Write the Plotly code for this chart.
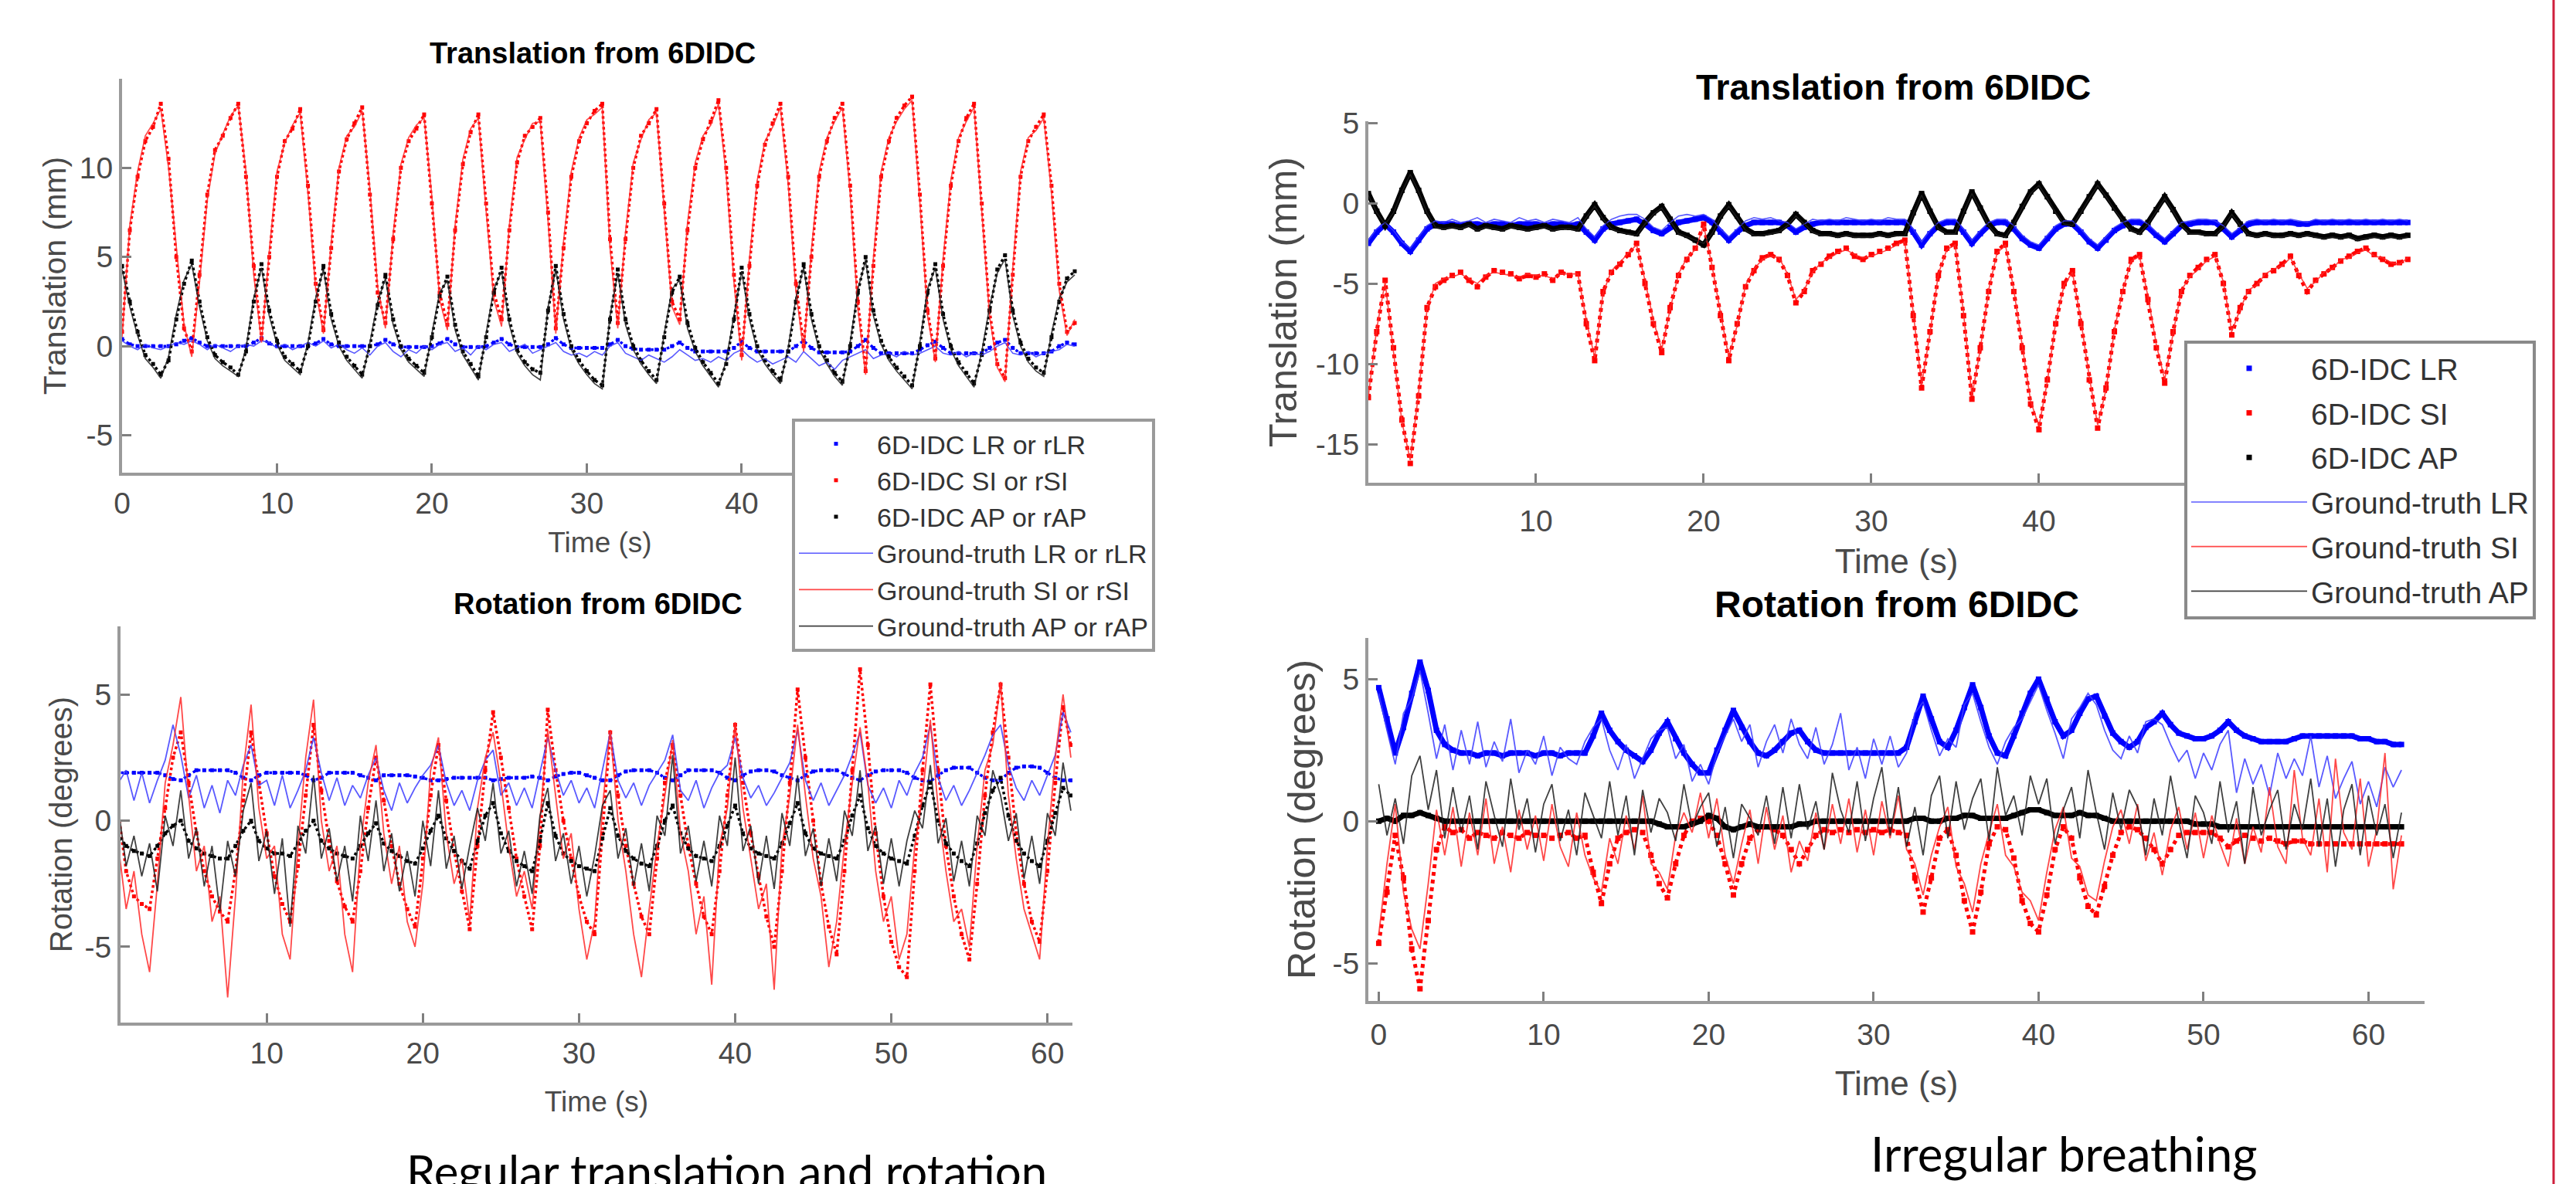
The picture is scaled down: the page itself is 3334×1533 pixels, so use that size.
import plotly.graph_objects as go

W, H = 3334, 1533

# ---------------- time bases (s) ----------------
t_reg = [round(0.5 * i, 1) for i in range(124)]   # regular breathing, 0 .. 61.5 s
t_irr = [round(0.5 * i, 1) for i in range(125)]   # irregular breathing, 0 .. 62 s

# ---------------- Regular: translation (mm) ----------------
reg_tr_lr_est = [0.4, 0.1, 0.0, 0.0, 0.0, 0.0, 0.0, 0.1, 0.3, 0.45,
                 0.2, 0.0, 0.0, 0.0, 0.0, 0.0, 0.0, 0.2, 0.45, 0.15,
                 0.0, 0.0, 0.0, 0.0, 0.0, 0.15, 0.4, 0.1, 0.0, 0.0,
                 0.0, 0.0, 0.0, 0.1, 0.35, 0.1, -0.05, -0.05, -0.05, -0.05,
                 0.0, 0.15, 0.4, 0.1, -0.05, -0.05, -0.05, 0.0, 0.2, 0.4,
                 0.1, -0.05, -0.05, -0.05, -0.05, 0.1, 0.45, 0.1, -0.1, -0.1,
                 -0.1, -0.1, -0.1, 0.1, 0.35, 0.0, -0.15, -0.2, -0.2, -0.2,
                 -0.2, 0.0, 0.2, -0.1, -0.3, -0.3, -0.3, -0.3, -0.3, -0.1,
                 0.25, -0.1, -0.3, -0.3, -0.3, -0.3, -0.3, 0.0, 0.3, -0.1,
                 -0.35, -0.35, -0.35, -0.35, -0.3, 0.0, 0.35, -0.1, -0.4, -0.4,
                 -0.4, -0.4, -0.4, -0.2, 0.05, 0.25, -0.1, -0.4, -0.4, -0.4,
                 -0.4, -0.4, -0.1, 0.2, 0.35, -0.1, -0.4, -0.4, -0.4, -0.4,
                 -0.3, 0.0, 0.2, 0.1]
reg_tr_si_est = [0.8, 6.5, 9.5, 11.5, 12.3, 13.6, 10.5, 5.0, 1.0, -0.3,
                 4.0, 8.5, 11.0, 11.8, 12.8, 13.6, 9.5, 4.5, 0.4, 5.0,
                 9.5, 11.5, 12.2, 13.3, 9.0, 3.5, 0.9, 5.5, 9.8, 11.6,
                 12.5, 13.4, 8.5, 3.0, 1.3, 6.0, 10.0, 11.5, 12.2, 13.0,
                 8.0, 3.0, 1.2, 6.5, 10.2, 12.0, 13.0, 8.0, 3.0, 1.5,
                 6.5, 10.3, 11.8, 12.3, 12.8, 7.5, 1.0, 5.5, 9.5, 11.5,
                 12.5, 13.2, 13.6, 6.0, 1.3, 6.0, 10.0, 11.8, 12.5, 13.3,
                 8.0, 2.5, 1.5, 6.5, 10.0, 11.6, 12.6, 13.8, 10.0, 4.0,
                 -0.5, 4.5, 9.0, 11.3, 12.5, 13.6, 9.5, 3.5, 0.0, 5.0,
                 9.5, 11.5, 12.8, 13.6, 9.0, 2.5, -1.4, 4.5, 9.5, 11.5,
                 12.8, 13.5, 14.0, 8.5, 2.0, -0.7, 4.5, 9.0, 11.5, 12.8,
                 13.6, 8.0, 2.0, -1.0, -1.8, 4.0, 9.5, 11.5, 12.3, 13.0,
                 9.0, 3.5, 0.8, 1.3]
reg_tr_ap_est = [4.5, 2.5, 0.8, -0.5, -1.0, -1.6, -0.8, 1.5, 3.5, 4.8,
                 2.5, 0.5, -0.5, -0.9, -1.2, -1.6, -0.3, 2.5, 4.6, 2.0,
                 0.3, -0.6, -1.0, -1.4, 0.0, 2.5, 4.5, 1.8, 0.2, -0.6,
                 -1.1, -1.6, 0.0, 2.3, 4.0, 1.5, 0.0, -0.7, -1.1, -1.5,
                 0.5, 2.8, 3.9, 1.2, -0.3, -1.0, -1.7, 0.5, 3.0, 4.4,
                 1.5, -0.2, -0.9, -1.3, -1.5, 2.0, 4.5, 1.8, 0.0, -0.8,
                 -1.4, -1.9, -2.2, 1.5, 4.3, 1.5, 0.0, -0.8, -1.4, -1.9,
                 0.5, 3.0, 3.9, 1.3, -0.1, -0.9, -1.5, -2.1, -1.0, 1.5,
                 4.4, 1.8, 0.0, -0.8, -1.4, -1.9, -0.3, 2.5, 4.6, 1.8,
                 0.0, -0.8, -1.5, -2.0, 0.0, 3.0, 5.0, 2.0, 0.3, -0.6,
                 -1.2, -1.7, -2.2, 0.0, 3.0, 4.6, 1.8, 0.0, -0.9, -1.5,
                 -2.1, -0.5, 2.0, 4.3, 5.1, 2.0, 0.2, -0.7, -1.2, -1.5,
                 0.5, 2.5, 3.8, 4.2]
reg_tr_lr_gt = [0.3, 0.0, -0.2, 0.1, -0.1, -0.2, 0.0, 0.2, 0.1, 0.3,
                0.1, -0.2, 0.1, -0.1, -0.3, 0.0, 0.1, 0.0, 0.3, 0.2,
                -0.1, 0.1, -0.2, 0.0, 0.2, 0.0, 0.3, -0.1, 0.1, -0.2,
                -0.4, -0.1, -0.5, 0.0, 0.2, -0.3, -0.6, -0.2, -0.4, 0.0,
                -0.2, 0.1, 0.2, -0.3, -0.1, -0.5, 0.0, -0.2, 0.1, 0.2,
                -0.3, -0.1, 0.1, -0.4, -0.2, 0.0, 0.2, -0.3, -0.5, -0.4,
                -0.6, -0.3, -0.5, 0.0, 0.2, -0.4, -0.6, -0.8, -0.5, -0.7,
                -0.9, -0.6, -0.2, -0.5, -0.8, -0.7, -0.9, -0.6, -0.8, -0.4,
                -0.2, -0.6, -0.9, -0.7, -1.0, -0.8, -0.6, -0.9, -0.3, -0.7,
                -1.1, -0.9, -1.3, -0.8, -0.6, -0.4, -0.2, -0.7, -0.5, -0.4,
                -0.6, -0.3, -0.5, -0.4, -0.2, 0.0, -0.4, -0.5, -0.3, -0.6,
                -0.4, -0.5, -0.3, 0.0, 0.2, -0.4, -0.5, -0.3, -0.6, -0.4,
                -0.3, -0.2, 0.1, 0.0]
reg_tr_si_gt = [0.5, 6.8, 9.8, 11.8, 12.5, 13.3, 10.0, 5.5, 1.2, -0.6,
                3.6, 8.2, 10.8, 11.9, 12.9, 13.5, 9.8, 4.0, 0.2, 5.3,
                9.8, 11.4, 12.4, 13.1, 8.6, 3.2, 0.7, 5.8, 10.0, 11.8,
                12.3, 13.2, 8.8, 3.3, 1.0, 6.3, 10.2, 11.7, 12.4, 12.8,
                8.4, 2.6, 0.9, 6.8, 10.5, 12.2, 12.8, 7.6, 2.6, 1.1,
                6.8, 10.6, 11.6, 12.5, 12.6, 7.0, 0.7, 5.9, 9.8, 11.7,
                12.7, 13.0, 13.4, 5.5, 1.0, 6.4, 10.3, 11.6, 12.7, 13.1,
                7.6, 2.2, 1.2, 6.9, 10.3, 11.8, 12.4, 13.6, 9.6, 3.6,
                -0.8, 4.9, 9.3, 11.5, 12.3, 13.4, 9.1, 3.1, -0.3, 5.4,
                9.8, 11.7, 12.6, 13.4, 8.6, 2.1, -1.6, 4.9, 9.8, 11.7,
                12.6, 13.3, 13.8, 8.1, 1.7, -0.9, 4.9, 9.3, 11.7, 12.6,
                13.4, 7.6, 1.7, -1.2, -2.0, 4.4, 9.8, 11.7, 12.1, 12.8,
                8.6, 3.1, 0.6, 1.5]
reg_tr_ap_gt = [4.3, 2.2, 0.6, -0.7, -1.2, -1.8, -0.6, 1.8, 3.7, 4.6,
                2.2, 0.3, -0.7, -1.1, -1.4, -1.7, -0.1, 2.7, 4.4, 1.7,
                0.1, -0.8, -1.2, -1.6, 0.2, 2.7, 4.3, 1.5, 0.0, -0.8,
                -1.3, -1.8, 0.2, 2.5, 3.8, 1.2, -0.2, -0.9, -1.3, -1.7,
                0.7, 3.0, 3.7, 0.9, -0.5, -1.2, -1.9, 0.7, 3.2, 4.2,
                1.2, -0.4, -1.1, -1.6, -1.9, 2.2, 4.3, 1.5, -0.2, -1.0,
                -1.6, -2.1, -2.4, 1.7, 4.1, 1.2, -0.2, -1.0, -1.6, -2.1,
                0.7, 3.2, 3.7, 1.0, -0.3, -1.1, -1.7, -2.3, -0.8, 1.7,
                4.2, 1.5, -0.2, -1.0, -1.6, -2.1, -0.1, 2.7, 4.4, 1.5,
                -0.2, -1.0, -1.7, -2.2, 0.2, 3.2, 4.8, 1.7, 0.1, -0.8,
                -1.4, -1.9, -2.4, 0.2, 3.2, 4.4, 1.5, -0.2, -1.1, -1.7,
                -2.3, -0.3, 2.2, 4.1, 4.9, 1.7, 0.0, -0.9, -1.4, -1.7,
                0.7, 2.7, 3.6, 4.0]

# ---------------- Regular: rotation (degrees) ----------------
reg_rot_lr_est = [2.0, 1.9, 1.9, 1.9, 1.9, 1.9, 1.9, 1.8, 1.65, 1.6,
                  1.8, 2.0, 2.0, 2.0, 2.0, 2.0, 1.9, 1.7, 1.6, 1.8,
                  1.9, 1.9, 1.9, 1.9, 1.9, 1.8, 1.6, 1.7, 1.9, 1.9,
                  1.9, 1.9, 1.8, 1.7, 1.6, 1.8, 1.8, 1.8, 1.8, 1.75,
                  1.7, 1.6, 1.6, 1.65, 1.7, 1.7, 1.7, 1.7, 1.7, 1.6,
                  1.65, 1.7, 1.7, 1.7, 1.75, 1.7, 1.6, 1.75, 1.85, 1.9,
                  1.9, 1.8, 1.7, 1.6, 1.6, 1.8, 1.95, 2.0, 2.0, 2.0,
                  1.9, 1.7, 1.6, 1.8, 2.0, 2.0, 2.0, 2.0, 1.9, 1.7,
                  1.6, 1.8, 1.95, 2.0, 2.0, 1.95, 1.8, 1.7, 1.6, 1.8,
                  1.95, 2.0, 2.0, 2.0, 1.85, 1.7, 1.6, 1.8, 1.95, 2.0,
                  2.0, 2.0, 1.9, 1.7, 1.6, 1.55, 1.8, 2.0, 2.1, 2.1,
                  2.1, 1.9, 1.7, 1.6, 1.6, 1.9, 2.1, 2.15, 2.15, 2.1,
                  1.9, 1.7, 1.6, 1.6]
reg_rot_si_est = [1.0, 0.3, -2.0, -3.0, -3.3, -3.5, -1.5, 0.5, 2.5, 3.5,
                  1.5, -0.5, -2.0, -3.0, -3.6, -4.0, -2.0, 0.8, 3.5, 1.5,
                  -0.5, -2.2, -3.3, -4.0, -1.8, 1.0, 3.8, 1.2, -0.8, -2.4,
                  -3.4, -4.0, -2.0, 0.5, 2.5, 0.8, -1.0, -2.5, -3.5, -4.2,
                  -1.5, 1.0, 3.0, 0.8, -1.2, -2.8, -4.3, -1.0, 2.0, 4.3,
                  2.5, 0.5, -1.5, -3.0, -4.3, -1.0, 4.4, 2.0, 0.0, -1.5,
                  -3.0, -4.0, -4.5, -0.5, 3.5, 1.0, -1.0, -2.5, -3.8, -4.5,
                  -1.5, 1.5, 3.0, 1.0, -1.0, -2.5, -3.8, -4.5, -2.0, 1.0,
                  3.8, 1.5, -0.5, -2.2, -3.8, -5.0, -2.0, 1.5, 5.2, 2.5,
                  0.0, -2.5, -4.2, -5.3, -2.0, 2.0, 6.0, 3.0, -0.5, -3.0,
                  -4.8, -5.8, -6.2, -2.0, 2.0, 5.4, 2.0, -1.0, -3.0, -4.5,
                  -5.5, -2.5, 1.0, 3.5, 5.4, 2.5, -0.5, -2.5, -4.0, -4.8,
                  -2.0, 1.5, 4.5, 3.0]
reg_rot_ap_est = [-0.5, -0.6, -1.0, -1.2, -1.3, -1.4, -1.0, -0.5, -0.2, 0.0,
                  -0.8, -1.1, -1.3, -1.4, -1.5, -1.5, -1.0, -0.4, 0.0, -0.8,
                  -1.1, -1.3, -1.3, -1.4, -0.9, -0.4, 0.0, -0.8, -1.1, -1.3,
                  -1.4, -1.5, -1.0, -0.5, -0.1, -0.9, -1.2, -1.4, -1.6, -1.7,
                  -1.1, -0.4, 0.2, -0.7, -1.2, -1.6, -1.9, -0.8, 0.2, 0.7,
                  -0.5, -1.2, -1.6, -1.8, -2.0, -0.8, 0.7, -0.6, -1.3, -1.6,
                  -1.8, -1.9, -2.0, -0.7, 0.5, -0.6, -1.2, -1.5, -1.7, -1.8,
                  -1.0, 0.0, 0.6, -0.5, -1.1, -1.4, -1.5, -1.6, -1.0, -0.2,
                  0.6, -0.5, -1.1, -1.3, -1.4, -1.5, -0.9, -0.1, 0.7, -0.5,
                  -1.1, -1.3, -1.4, -1.5, -0.8, 0.2, 1.0, -0.3, -1.0, -1.3,
                  -1.5, -1.6, -1.7, -0.6, 0.6, 1.5, 0.0, -0.9, -1.3, -1.6,
                  -1.8, -0.9, 0.3, 1.2, 1.7, 0.2, -0.8, -1.3, -1.6, -1.8,
                  -0.8, 0.3, 1.3, 1.0]
reg_rot_lr_gt = [2.8, 1.5, 2.0, 0.8, 1.9, 0.7, 1.6, 2.4, 3.8, 2.6,
                 0.9, 1.8, 0.5, 1.4, 0.3, 1.6, 1.0, 2.2, 3.0, 1.4,
                 1.6, 0.6, 1.8, 0.5, 1.2, 2.0, 3.3, 1.9, 0.8, 1.7,
                 0.6, 1.4, 0.9, 1.8, 2.5, 1.2, 0.4, 1.5, 0.7, 1.3,
                 1.8, 2.2, 3.0, 1.5, 0.6, 1.2, 0.4, 1.6, 2.4, 2.8,
                 1.0, 1.5, 0.6, 1.3, 0.5, 1.9, 3.3, 2.0, 1.0, 1.6,
                 0.7, 1.3, 0.5, 2.0, 3.5, 1.6, 0.9, 1.5, 0.6, 1.4,
                 1.9, 2.4, 3.4, 1.2, 0.8, 1.6, 0.5, 1.3, 1.9, 2.2,
                 3.3, 1.7, 0.9, 1.4, 0.6, 1.1, 1.7, 2.3, 3.6, 1.6,
                 0.8, 1.5, 0.6, 1.2, 1.8, 2.6, 3.5, 1.4, 0.7, 1.3,
                 0.5, 1.6, 1.0, 1.9, 2.5, 3.8, 1.7, 0.8, 1.4, 0.6,
                 1.2, 1.9, 2.6, 3.4, 3.8, 2.2, 1.3, 0.8, 1.6, 1.0,
                 1.8, 2.6, 4.3, 3.5]
reg_rot_si_gt = [0.5, -1.0, -3.5, -2.0, -4.5, -6.0, -2.5, 1.5, 3.0, 4.9,
                 1.0, -2.0, -1.0, -4.0, -3.0, -7.0, -3.0, 2.0, 4.6, 0.5,
                 -1.5, -1.0, -4.5, -5.5, -1.0, 2.5, 4.8, 0.0, -2.0, -1.0,
                 -4.5, -6.0, -1.0, 1.5, 3.0, -0.5, -2.5, -1.0, -4.0, -5.0,
                 -2.5, 2.0, 3.3, -0.5, -2.5, -1.5, -4.0, 0.5, 2.5, 3.5,
                 1.5, -1.0, -3.0, -2.0, -3.5, 0.0, 3.6, 1.0, -1.5, -0.5,
                 -3.5, -5.5, -4.0, 0.5, 3.6, 0.0, -2.0, -4.5, -6.2, -3.5,
                 -1.0, 1.0, 3.2, -0.5, -2.0, -4.5, -3.0, -6.5, -1.0, 0.5,
                 3.9, 0.5, -1.5, -3.5, -2.5, -6.7, -1.0, 1.0, 3.8, 1.0,
                 -1.5, -3.0, -5.8, -4.0, -1.0, 1.5, 3.7, 1.5, -2.0, -4.0,
                 -3.0, -5.5, -4.5, -1.0, 1.0, 4.0, 0.5, -2.0, -4.0, -3.5,
                 -5.0, -1.0, 2.0, 3.0, 5.5, 1.0, -1.5, -3.5, -4.5, -5.5,
                 -1.0, 2.5, 5.0, 2.5]
reg_rot_ap_gt = [-0.3, 0.5, -1.8, -0.6, -2.2, -0.9, -2.8, 0.2, -1.0, 1.2,
                 -1.5, -0.3, -2.6, -1.0, -3.6, -0.8, -2.2, 0.4, 1.5, -1.6,
                 -0.4, -2.9, -0.7, -4.2, -0.2, -1.3, 1.8, -1.5, -0.3, -2.4,
                 -1.0, -3.2, 0.2, -1.6, 0.8, -2.0, -0.5, -2.8, -1.2, -3.0,
                 0.0, -1.8, 1.2, -1.9, -0.6, -2.7, -1.0, 0.5, -0.8, 1.5,
                 -1.3, -0.4, -2.6, -1.2, -2.9, 0.2, 1.3, -1.6, -0.5, -2.5,
                 -1.0, -3.0, -1.4, 0.6, 1.2, -1.5, -0.3, -2.6, -0.9, -2.8,
                 0.2, -0.6, 2.6, -1.3, -0.2, -2.4, -0.8, -2.6, 0.2, -1.0,
                 2.5, -1.2, -0.2, -2.5, -0.6, -2.7, 0.3, -1.0, 1.8, -1.4,
                 -0.3, -2.6, -0.7, -2.4, 0.4, -0.6, 2.0, -1.2, -0.2, -2.5,
                 -0.7, -2.6, -0.8, 0.4, -0.3, 2.2, -0.9, 0.1, -2.4, -0.8,
                 -2.6, 0.2, -0.6, 2.0, 1.0, -0.8, 0.3, -2.3, -0.6, -2.5,
                 0.3, -0.6, 2.3, 0.4]

# ---------------- Irregular: translation (mm) ----------------
irr_tr_lr_est = [-2.5, -1.8, -1.3, -1.8, -2.5, -3.0, -2.3, -1.6, -1.3, -1.3,
                 -1.3, -1.4, -1.3, -1.3, -1.4, -1.3, -1.3, -1.4, -1.3, -1.3,
                 -1.3, -1.4, -1.3, -1.3, -1.4, -1.3, -1.8, -2.3, -1.6, -1.3,
                 -1.2, -1.1, -1.0, -1.3, -1.7, -1.9, -1.5, -1.2, -1.1, -1.0,
                 -0.9, -1.2, -1.8, -2.3, -1.8, -1.4, -1.2, -1.2, -1.2, -1.2,
                 -1.4, -1.8, -1.5, -1.3, -1.2, -1.2, -1.2, -1.2, -1.2, -1.2,
                 -1.2, -1.2, -1.2, -1.2, -1.2, -1.8, -2.6, -1.9, -1.4, -1.2,
                 -1.2, -1.8, -2.5, -1.9, -1.4, -1.2, -1.2, -1.6, -2.2, -2.6,
                 -2.8, -2.2, -1.6, -1.3, -1.3, -1.8, -2.4, -2.8, -2.3, -1.7,
                 -1.4, -1.2, -1.2, -1.5, -2.0, -2.4, -1.9, -1.4, -1.3, -1.2,
                 -1.2, -1.2, -1.6, -2.1, -1.7, -1.3, -1.2, -1.2, -1.2, -1.2,
                 -1.2, -1.3, -1.3, -1.2, -1.2, -1.2, -1.2, -1.2, -1.2, -1.2,
                 -1.2, -1.2, -1.2, -1.2, -1.2]
irr_tr_si_est = [-12.1, -8.0, -4.8, -9.0, -13.5, -16.2, -12.0, -6.5, -5.2, -4.8,
                 -4.5, -4.3, -4.8, -5.2, -4.6, -4.2, -4.3, -4.4, -4.7, -4.5,
                 -4.6, -4.4, -4.8, -4.3, -4.5, -4.4, -7.5, -9.8, -5.5, -4.3,
                 -3.8, -3.2, -2.5, -5.0, -7.5, -9.3, -6.5, -4.5, -3.5, -2.8,
                 -1.3, -4.0, -7.0, -9.8, -7.5, -5.2, -4.2, -3.4, -3.2, -3.5,
                 -4.5, -6.2, -5.5, -4.2, -3.8, -3.3, -3.0, -2.8, -3.3, -3.5,
                 -3.2, -3.0, -2.8, -2.5, -2.3, -7.0, -11.5, -8.0, -4.5, -2.8,
                 -2.5, -7.0, -12.2, -9.0, -5.5, -3.0, -2.5, -5.5, -9.0, -12.5,
                 -14.1, -11.0, -7.5, -5.0, -4.2, -7.5, -11.0, -14.0, -11.5, -8.0,
                 -5.5, -3.5, -3.2, -6.0, -9.0, -11.2, -8.0, -5.5, -4.5, -4.0,
                 -3.5, -3.2, -5.0, -8.2, -6.5, -5.5, -5.0, -4.5, -4.2, -3.8,
                 -3.3, -4.5, -5.5, -4.8, -4.4, -4.0, -3.6, -3.3, -3.0, -2.8,
                 -3.2, -3.5, -3.8, -3.7, -3.5]
irr_tr_ap_est = [0.6, -0.5, -1.4, -0.5, 0.8, 1.9, 0.8, -0.5, -1.4, -1.5,
                 -1.4, -1.5, -1.3, -1.6, -1.4, -1.5, -1.6, -1.4, -1.5, -1.6,
                 -1.5, -1.4, -1.6, -1.5, -1.5, -1.6, -0.8, -0.1, -0.9, -1.5,
                 -1.7, -1.8, -1.9, -1.2, -0.6, -0.2, -1.0, -1.8, -2.0, -2.3,
                 -2.6, -1.8, -0.8, -0.1, -0.8, -1.6, -1.9, -1.9, -1.8, -1.7,
                 -1.3, -0.7, -1.2, -1.7, -1.9, -1.9, -2.0, -1.9, -2.0, -2.0,
                 -2.0, -1.9, -2.0, -1.9, -1.9, -0.6, 0.6, -0.5, -1.5, -1.8,
                 -1.8, -0.5, 0.7, -0.3, -1.3, -1.9, -2.0, -1.2, -0.2, 0.7,
                 1.2, 0.4, -0.5, -1.2, -1.3, -0.5, 0.4, 1.2, 0.5, -0.3,
                 -1.0, -1.6, -1.8, -1.2, -0.4, 0.4, -0.4, -1.3, -1.8, -1.8,
                 -1.9, -1.9, -1.4, -0.6, -1.3, -1.9, -2.0, -1.9, -2.0, -2.0,
                 -1.9, -2.0, -1.9, -2.0, -2.1, -2.0, -2.1, -2.0, -2.2, -2.1,
                 -2.0, -2.1, -2.0, -2.1, -2.0]
irr_tr_lr_gt = [-2.3, -1.6, -1.2, -1.7, -2.4, -2.8, -2.1, -1.4, -1.1, -1.2,
                -1.0, -1.2, -1.1, -0.9, -1.2, -1.0, -1.1, -1.2, -0.9, -1.1,
                -1.0, -1.2, -1.0, -1.1, -1.2, -0.9, -1.6, -2.1, -1.4, -1.0,
                -0.8, -0.7, -0.7, -1.0, -1.5, -1.7, -1.2, -0.8, -0.7, -0.8,
                -0.7, -1.0, -1.6, -2.1, -1.6, -1.1, -0.9, -1.0, -0.9, -1.1,
                -1.2, -1.6, -1.3, -1.0, -1.1, -1.0, -1.1, -0.9, -1.0, -1.1,
                -1.0, -1.1, -0.9, -1.0, -1.0, -1.6, -2.4, -1.7, -1.2, -1.0,
                -1.0, -1.6, -2.3, -1.7, -1.2, -1.0, -1.0, -1.4, -2.0, -2.4,
                -2.6, -2.0, -1.4, -1.1, -1.1, -1.6, -2.2, -2.6, -2.1, -1.5,
                -1.2, -1.0, -1.0, -1.3, -1.8, -2.2, -1.7, -1.2, -1.1, -1.0,
                -1.0, -1.1, -1.4, -1.9, -1.5, -1.1, -1.0, -1.1, -1.0, -1.1,
                -1.0, -1.1, -1.2, -1.0, -1.1, -1.0, -1.1, -1.0, -1.1, -1.0,
                -1.1, -1.0, -1.1, -1.0, -1.1]
irr_tr_si_gt = [-12.0, -7.8, -4.9, -9.2, -13.6, -16.0, -11.8, -6.6, -5.0, -4.7,
                -4.6, -4.4, -4.7, -5.0, -4.5, -4.3, -4.4, -4.5, -4.6, -4.4,
                -4.5, -4.5, -4.7, -4.4, -4.4, -4.4, -7.3, -9.6, -5.6, -4.2,
                -3.7, -3.1, -2.6, -4.8, -7.3, -9.1, -6.6, -4.4, -3.4, -2.9,
                -1.4, -3.9, -6.8, -9.6, -7.6, -5.1, -4.1, -3.5, -3.3, -3.4,
                -4.4, -6.0, -5.4, -4.3, -3.7, -3.4, -3.1, -2.9, -3.2, -3.4,
                -3.3, -3.1, -2.9, -2.6, -2.4, -6.8, -11.3, -8.1, -4.4, -2.9,
                -2.6, -6.8, -12.0, -9.1, -5.4, -3.1, -2.6, -5.4, -8.8, -12.3,
                -13.9, -11.1, -7.4, -5.1, -4.3, -7.3, -10.8, -13.8, -11.6, -7.9,
                -5.4, -3.6, -3.3, -5.8, -8.8, -11.0, -8.1, -5.4, -4.6, -4.1,
                -3.6, -3.3, -4.9, -8.0, -6.6, -5.4, -5.1, -4.4, -4.1, -3.9,
                -3.4, -4.4, -5.3, -4.9, -4.3, -4.1, -3.5, -3.4, -3.1, -2.9,
                -3.3, -3.4, -3.7, -3.8, -3.4]
irr_tr_ap_gt = [0.5, -0.6, -1.3, -0.6, 0.7, 1.8, 0.7, -0.6, -1.5, -1.6,
                -1.5, -1.6, -1.4, -1.7, -1.5, -1.6, -1.7, -1.5, -1.6, -1.7,
                -1.6, -1.5, -1.7, -1.6, -1.6, -1.7, -0.9, -0.2, -1.0, -1.6,
                -1.8, -1.9, -2.0, -1.3, -0.7, -0.3, -1.1, -1.9, -2.1, -2.3,
                -2.5, -1.9, -0.9, -0.2, -0.9, -1.7, -2.0, -2.0, -1.9, -1.8,
                -1.4, -0.8, -1.3, -1.8, -2.0, -2.0, -2.1, -2.0, -2.1, -2.1,
                -2.1, -2.0, -2.1, -2.0, -2.0, -0.7, 0.5, -0.6, -1.6, -1.9,
                -1.9, -0.6, 0.6, -0.4, -1.4, -2.0, -2.1, -1.3, -0.3, 0.6,
                1.1, 0.3, -0.6, -1.3, -1.4, -0.6, 0.3, 1.1, 0.4, -0.4,
                -1.1, -1.7, -1.9, -1.3, -0.5, 0.3, -0.5, -1.4, -1.9, -1.9,
                -2.0, -2.0, -1.5, -0.7, -1.4, -2.0, -2.1, -2.0, -2.1, -2.1,
                -2.0, -2.1, -2.0, -2.1, -2.2, -2.1, -2.2, -2.1, -2.3, -2.2,
                -2.1, -2.2, -2.1, -2.2, -2.1]

# ---------------- Irregular: rotation (degrees) ----------------
irr_rot_lr_est = [4.7, 3.6, 2.4, 3.3, 4.5, 5.6, 4.6, 3.2, 2.7, 2.5,
                  2.4, 2.4, 2.3, 2.4, 2.4, 2.3, 2.4, 2.4, 2.4, 2.3,
                  2.4, 2.4, 2.3, 2.4, 2.4, 2.4, 3.0, 3.8, 3.2, 2.8,
                  2.5, 2.3, 2.1, 2.5, 3.1, 3.5, 2.9, 2.4, 2.0, 1.7,
                  1.7, 2.5, 3.2, 3.9, 3.3, 2.8, 2.4, 2.3, 2.5, 2.8,
                  3.1, 3.2, 2.8, 2.5, 2.4, 2.4, 2.4, 2.4, 2.4, 2.4,
                  2.4, 2.4, 2.4, 2.4, 2.6, 3.5, 4.4, 3.6, 2.8, 2.6,
                  3.2, 4.0, 4.8, 4.0, 3.0, 2.4, 2.3, 3.0, 3.8, 4.5,
                  5.0, 4.3, 3.5, 3.0, 3.2, 3.8, 4.3, 4.4, 3.7, 3.1,
                  2.8, 2.6, 2.8, 3.3, 3.5, 3.8, 3.4, 3.1, 3.0, 2.9,
                  2.9, 3.0, 3.2, 3.5, 3.2, 3.0, 2.9, 2.8, 2.8, 2.8,
                  2.8, 2.9, 3.0, 3.0, 3.0, 3.0, 3.0, 3.0, 3.0, 2.9,
                  2.9, 2.8, 2.8, 2.7, 2.7]
irr_rot_si_est = [-4.3, -2.5, -0.5, -2.0, -4.5, -5.9, -3.5, -1.0, -0.2, -0.4,
                  -0.3, -0.6, -0.4, -0.5, -0.6, -0.4, -0.5, -0.6, -0.4, -0.5,
                  -0.5, -0.6, -0.5, -0.4, -0.6, -0.5, -1.8, -2.9, -1.5, -0.6,
                  -0.4, -0.3, -0.4, -1.2, -2.2, -2.7, -1.5, -0.5, 0.0, 0.1,
                  0.0, -0.5, -1.5, -2.6, -1.5, -0.6, -0.3, -0.2, -0.3, -0.5,
                  -1.0, -1.5, -1.0, -0.5, -0.3, -0.4, -0.3, -0.4, -0.3, -0.4,
                  -0.3, -0.4, -0.3, -0.4, -0.5, -2.0, -3.2, -2.0, -0.6, -0.3,
                  -1.2, -2.8, -3.9, -2.5, -0.8, -0.2, -0.3, -1.3, -2.8, -3.6,
                  -3.9, -2.6, -1.0, -0.2, -0.6, -2.0, -3.0, -3.3, -2.3, -1.2,
                  -0.4, -0.2, -0.3, -0.6, -1.0, -1.5, -1.0, -0.5, -0.4, -0.4,
                  -0.4, -0.4, -0.6, -0.9, -0.7, -0.5, -0.6, -0.7, -0.6, -0.7,
                  -0.8, -0.7, -0.7, -0.8, -0.8, -0.8, -0.8, -0.8, -0.8, -0.8,
                  -0.8, -0.8, -0.8, -0.8, -0.8]
irr_rot_ap_est = [0.0, 0.1, 0.0, 0.2, 0.2, 0.3, 0.2, 0.1, 0.0, 0.0,
                  0.0, 0.0, 0.0, 0.0, 0.0, 0.0, 0.0, 0.0, 0.0, 0.0,
                  0.0, 0.0, 0.0, 0.0, 0.0, 0.0, 0.0, 0.0, 0.0, 0.0,
                  0.0, 0.0, 0.0, 0.0, -0.1, -0.2, -0.2, -0.2, -0.1, 0.0,
                  0.2, 0.1, -0.2, -0.3, -0.2, -0.1, -0.2, -0.2, -0.2, -0.2,
                  -0.2, -0.1, -0.1, 0.0, 0.0, 0.0, 0.0, 0.0, 0.0, 0.0,
                  0.0, 0.0, 0.0, 0.0, 0.0, 0.1, 0.1, 0.0, 0.0, 0.1,
                  0.1, 0.2, 0.2, 0.1, 0.1, 0.1, 0.1, 0.2, 0.3, 0.4,
                  0.4, 0.3, 0.2, 0.2, 0.2, 0.3, 0.2, 0.2, 0.1, 0.0,
                  0.0, 0.0, 0.0, 0.0, 0.0, 0.0, 0.0, 0.0, 0.0, -0.1,
                  -0.1, -0.1, -0.2, -0.2, -0.2, -0.2, -0.2, -0.2, -0.2, -0.2,
                  -0.2, -0.2, -0.2, -0.2, -0.2, -0.2, -0.2, -0.2, -0.2, -0.2,
                  -0.2, -0.2, -0.2, -0.2, -0.2]
irr_rot_lr_gt = [4.5, 3.2, 2.0, 3.8, 4.3, 5.3, 3.8, 2.2, 3.4, 1.8,
                 3.2, 2.0, 3.5, 1.9, 2.8, 2.1, 3.6, 1.7, 2.5, 2.0,
                 3.0, 1.6, 2.6, 2.2, 2.0, 2.8, 3.3, 3.6, 2.5, 1.8,
                 2.7, 1.5, 2.2, 2.9, 3.2, 3.3, 2.2, 2.7, 1.4, 2.0,
                 1.3, 2.4, 3.0, 3.6, 2.8, 3.4, 1.9, 2.8, 3.4, 2.4,
                 3.6, 2.7, 2.2, 3.3, 2.0, 2.7, 3.8, 1.8, 2.6, 1.5,
                 2.9, 2.0, 3.0, 1.9, 2.4, 3.8, 4.2, 3.2, 2.3, 2.9,
                 2.6, 4.1, 4.5, 3.5, 2.6, 2.0, 2.8, 3.3, 3.6, 4.2,
                 4.8, 3.9, 3.1, 2.2, 3.6, 4.0, 4.5, 4.1, 3.2, 2.5,
                 2.2, 3.0, 2.4, 3.5, 3.6, 3.4, 2.7, 2.1, 2.5, 1.5,
                 2.4, 1.8, 2.7, 3.2, 1.0, 2.2, 1.3, 2.0, 0.9, 2.4,
                 1.5, 2.2, 1.6, 3.0, 1.2, 2.3, 0.8, 1.5, 2.1, 0.6,
                 1.4, 0.5, 1.9, 1.2, 1.8]
irr_rot_si_gt = [-4.0, -1.5, 0.6, -2.5, -3.8, -4.5, -2.2, 0.4, -1.2, 0.5,
                 -1.6, 0.3, -1.2, 0.8, -1.5, -0.2, -1.8, 0.4, -1.0, 0.2,
                 -1.4, 0.6, -0.9, -1.6, 0.3, -1.2, -2.0, -2.5, -0.6, -1.5,
                 0.2, -1.0, 0.9, -1.5, -1.8, -2.4, -0.5, 0.3, -0.4, 1.0,
                 -0.6, 0.8, -1.2, -2.2, -0.8, 0.4, -1.5, 0.5, -1.0, 0.2,
                 -1.8, -0.7, -1.4, 0.3, -1.0, 0.6, -0.8, 0.8, -1.1, 0.4,
                 -1.2, 0.7, -0.6, 0.9, -1.0, -1.5, -2.6, -1.2, -0.2, 0.5,
                 -1.6, -2.2, -3.2, -1.5, -0.4, 0.6, -1.2, -1.6, -2.5, -2.8,
                 -3.5, -1.8, -0.3, 0.5, -1.3, -1.6, -2.6, -2.8, -1.4, -0.2,
                 0.4, -0.8, 0.6, -1.4, -0.4, -1.9, -0.3, 0.5, -1.0, 0.3,
                 -1.3, 0.2, -0.8, -1.6, 0.1, -1.5, -0.2, -1.1, 1.2, -0.9,
                 -1.5, 1.8, -0.6, -1.2, 0.8, -1.8, 2.2, -0.4, -1.0, 1.5,
                 -1.6, -0.3, 2.4, -2.4, -0.5]
irr_rot_ap_gt = [1.3, -0.5, 0.8, -0.8, 1.6, 2.3, 0.4, 1.8, -0.6, 1.2,
                 -0.4, 0.9, -1.0, 1.4, 0.2, -0.9, 1.5, -0.3, 0.8, -1.1,
                 0.6, 1.3, -0.7, 0.4, -1.2, 1.0, 0.2, -0.6, 1.4, -0.5,
                 0.9, -1.2, 1.1, -0.4, 0.8, 0.3, -0.7, 1.3, -0.2, 0.5,
                 1.0, -0.9, 0.5, -1.3, 0.6, 0.1, -0.5, 0.9, -0.8, 1.2,
                 -0.6, 1.3, -0.3, 0.7, -1.0, 1.7, 0.4, -0.4, 1.4, -0.7,
                 0.8, 1.9, -0.5, 1.2, -0.9, 0.5, -1.2, 0.9, 1.6, -0.6,
                 1.4, -0.3, 0.8, 1.5, -0.7, 1.9, 0.2, 0.9, -0.5, 1.6,
                 0.6, 1.5, -0.8, 0.4, 1.2, -0.6, 1.8, 0.3, -1.0, 1.0,
                 -0.3, 1.1, 0.5, -1.2, 0.8, -0.5, 1.6, 0.0, -1.3, 0.9,
                 0.3, -0.8, 1.4, -0.4, 0.7, -1.5, 1.2, -0.5, 0.4, 1.1,
                 -1.0, 0.6, -0.3, 1.5, -0.9, 0.8, -1.6, 0.4, 1.3, -1.2,
                 0.9, -0.5, 0.6, -1.3, 0.3]

# ---------------- labels ----------------
names_reg_est = ["6D-IDC LR or rLR", "6D-IDC SI or rSI", "6D-IDC AP or rAP"]
names_reg_gt = ["Ground-truth LR or rLR", "Ground-truth SI or rSI", "Ground-truth AP or rAP"]
names_irr_est = ["6D-IDC LR", "6D-IDC SI", "6D-IDC AP"]
names_irr_gt = ["Ground-truth LR", "Ground-truth SI", "Ground-truth AP"]
x_ticks_all = [0, 10, 20, 30, 40, 50, 60]

# ---------------- helpers (pixel -> paper) ----------------
def px(x):
    return x / W


def py(y):
    return 1 - y / H


EST_COL = ["#0000ff", "#ff0000", "#000000"]
GT_COL = ["rgba(60,60,255,0.85)", "rgba(255,40,40,0.85)", "rgba(30,30,30,0.85)"]

fig = go.Figure()

panels = [
    dict(xa="x", ya="y", t=t_reg, est=[reg_tr_lr_est, reg_tr_si_est, reg_tr_ap_est],
         gt=[reg_tr_lr_gt, reg_tr_si_gt, reg_tr_ap_gt], legend="legend", show=True,
         ne=names_reg_est, ng=names_reg_gt, dense=False, gtw=1.6),
    dict(xa="x2", ya="y2", t=t_reg, est=[reg_rot_lr_est, reg_rot_si_est, reg_rot_ap_est],
         gt=[reg_rot_lr_gt, reg_rot_si_gt, reg_rot_ap_gt], legend="legend", show=False,
         ne=names_reg_est, ng=names_reg_gt, dense=False, gtw=1.8),
    dict(xa="x3", ya="y3", t=t_irr, est=[irr_tr_lr_est, irr_tr_si_est, irr_tr_ap_est],
         gt=[irr_tr_lr_gt, irr_tr_si_gt, irr_tr_ap_gt], legend="legend2", show=True,
         ne=names_irr_est, ng=names_irr_gt, dense=True, gtw=1.6),
    dict(xa="x4", ya="y4", t=t_irr, est=[irr_rot_lr_est, irr_rot_si_est, irr_rot_ap_est],
         gt=[irr_rot_lr_gt, irr_rot_si_gt, irr_rot_ap_gt], legend="legend2", show=False,
         ne=names_irr_est, ng=names_irr_gt, dense=True, gtw=1.8),
]

for p in panels:
    for k in range(3):
        ys = p["est"][k]
        xs = p["t"][:len(ys)]
        grp = p["legend"] + "_est" + str(k)
        if p["dense"]:
            lw = 5 if k == 1 else 7
            dash = "dot" if k == 1 else "solid"
            msz = 7
        else:
            lw = 3.5
            dash = "dot"
            msz = 5
        fig.add_trace(go.Scatter(x=xs, y=ys, xaxis=p["xa"], yaxis=p["ya"], mode="lines",
                                 line=dict(color=EST_COL[k], width=lw, dash=dash),
                                 showlegend=False, legendgroup=grp, legend=p["legend"],
                                 hoverinfo="skip"))
        fig.add_trace(go.Scatter(x=xs, y=ys, xaxis=p["xa"], yaxis=p["ya"], mode="markers",
                                 marker=dict(color=EST_COL[k], size=msz, symbol="square"),
                                 name=p["ne"][k], showlegend=p["show"], legendgroup=grp,
                                 legend=p["legend"]))
    for k in range(3):
        ys = p["gt"][k]
        xs = p["t"][:len(ys)]
        fig.add_trace(go.Scatter(x=xs, y=ys, xaxis=p["xa"], yaxis=p["ya"], mode="lines",
                                 line=dict(color=GT_COL[k], width=p["gtw"]),
                                 name=p["ng"][k], showlegend=p["show"],
                                 legendgroup=p["legend"] + "_gt" + str(k), legend=p["legend"]))

TICKFONT = dict(family="Liberation Sans, Arial", size=39, color="#4a4a4a")


def ax(domain, rng, tickvals, anchor, title=None, tsize=38, standoff=10, lstand=0):
    d = dict(domain=domain, range=rng, anchor=anchor, showline=True, linecolor="#9a9a9a",
             linewidth=4, ticks="inside", ticklen=12, tickwidth=3, tickcolor="#7f7f7f",
             showgrid=False, zeroline=False, tickfont=TICKFONT, tickvals=tickvals,
             ticktext=[str(v) for v in tickvals], ticklabelstandoff=lstand, automargin=False)
    if title:
        d["title"] = dict(text=title, standoff=standoff,
                          font=dict(family="Liberation Sans, Arial", size=tsize, color="#4a4a4a"))
    return d


fig.update_layout(
    width=W, height=H, margin=dict(l=0, r=0, t=0, b=0, pad=0, autoexpand=False),
    paper_bgcolor="white", plot_bgcolor="white",
    xaxis=ax([px(158), px(1395)], [0, 61.7], x_ticks_all, "y", "Time (s)", 37, 18, 2),
    yaxis=ax([py(612), py(102)], [-7.1, 15.0], [-5, 0, 5, 10], "x", "Translation (mm)", 41, 5, 0),
    xaxis2=ax([px(156), px(1388)], [0.64, 61.6], [10, 20, 30, 40, 50, 60], "y2", "Time (s)", 37, 30, 2),
    yaxis2=ax([py(1324), py(811)], [-8.0, 7.7], [-5, 0, 5], "x2", "Rotation (degrees)", 40, 5, 0),
    xaxis3=ax([px(1771), px(3138)], [0, 63.0], [10, 20, 30, 40, 50, 60], "y3", "Time (s)", 44, 17, 12),
    yaxis3=ax([py(625), py(157)], [-17.4, 5.1], [-15, -10, -5, 0, 5], "x3", "Translation (mm)", 50, 9, 0),
    xaxis4=ax([px(1771), px(3138)], [-0.63, 63.4], x_ticks_all, "y4", "Time (s)", 44, 28, 6),
    yaxis4=ax([py(1296), py(826)], [-6.33, 6.45], [-5, 0, 5], "x4", "Rotation (degrees)", 50, 7, 0),
    legend=dict(x=px(1025), y=py(542), xanchor="left", yanchor="top", bgcolor="white",
                bordercolor="#9a9a9a", borderwidth=4, traceorder="grouped", tracegroupgap=0,
                itemwidth=96, font=dict(family="Liberation Sans, Arial", size=34, color="#333333")),
    legend2=dict(x=px(2827), y=py(441), xanchor="left", yanchor="top", bgcolor="white",
                 bordercolor="#8a8a8a", borderwidth=4, traceorder="grouped", tracegroupgap=4,
                 itemwidth=150, font=dict(family="Liberation Sans, Arial", size=39, color="#333333")),
)

title_font = dict(family="Liberation Sans, Arial", color="black")
annos = [
    ("<b>Translation from 6DIDC</b>", 767, 69, 38),
    ("<b>Rotation from 6DIDC</b>", 774, 782, 38),
    ("<b>Translation from 6DIDC</b>", 2450, 113, 46),
    ("<b>Rotation from 6DIDC</b>", 2455, 782, 48),
]
for text, x, y, s in annos:
    fig.add_annotation(text=text, x=px(x), y=py(y), xref="paper", yref="paper",
                       xanchor="center", yanchor="middle", showarrow=False,
                       font=dict(size=s, **title_font))

for text, x, y, s in [("Regular translation and rotation", 940, 1516, 60),
                      ("Irregular breathing", 2671, 1493, 62)]:
    fig.add_annotation(text=text, x=px(x), y=py(y), xref="paper", yref="paper",
                       xanchor="center", yanchor="middle", showarrow=False,
                       font=dict(family="Lato", size=s, color="black"))

fig.add_shape(type="line", xref="paper", yref="paper", x0=px(3305), x1=px(3305), y0=0, y1=1,
              line=dict(color="#cf1f3c", width=3))

fig.write_html("out.html", config={"displayModeBar": False},
               post_script="document.body.style.margin='0px';")
